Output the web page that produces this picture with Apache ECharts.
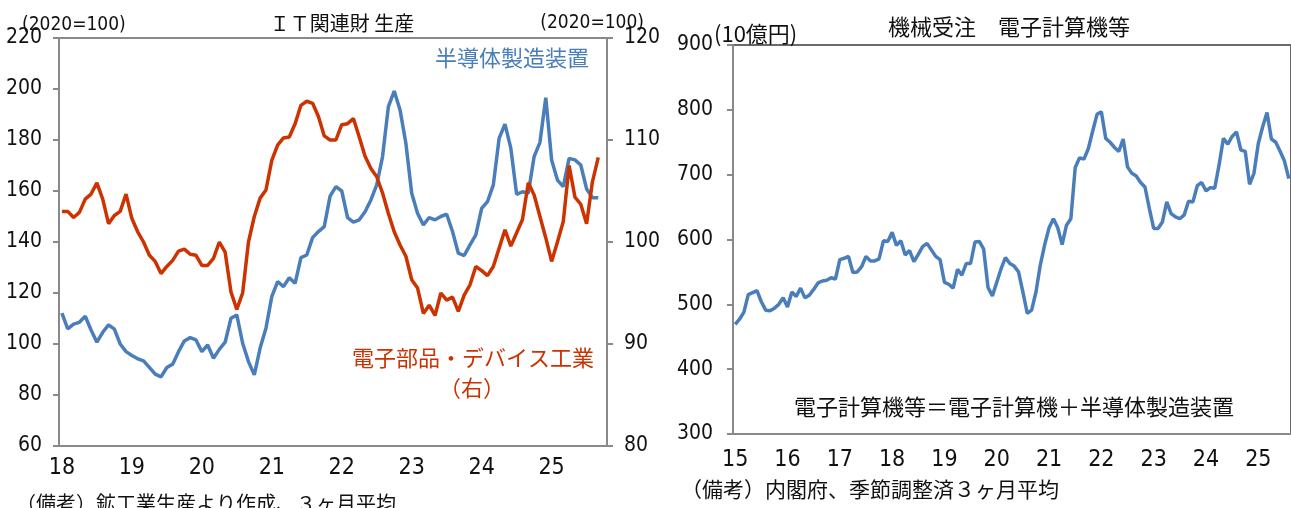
<!DOCTYPE html>
<html><head><meta charset="utf-8">
<script src="https://cdn.jsdelivr.net/npm/echarts@6/dist/echarts.min.js"></script>
<style>html,body{margin:0;padding:0;background:#fff}#c{width:1291px;height:508px}</style>
</head><body><div id="c"></div>
<script>
// ---- data ----
const leftStart = [2018, 1], leftMonthCount = 94;   // x-axis categories (monthly)
const rightStart = [2015, 1], rightMonthCount = 128;

// 半導体製造装置 (left axis, 2020=100), 2018-01 .. 2025-09
const semiEquip = [112.1,105.9,107.8,108.5,110.9,105.5,100.7,104.6,107.5,105.8,
 100.0,97.0,95.5,94.2,93.4,90.8,88.2,87.1,90.8,92.1,
 97.0,101.2,102.5,101.6,97.0,99.6,94.4,97.9,100.7,110.1,
 111.4,100.3,93.1,87.9,98.4,106.2,118.6,124.5,122.5,126.0,
 123.8,133.9,134.9,141.7,144.1,146.0,158.0,161.7,160.0,149.6,
 147.8,148.7,151.9,156.5,162.4,173.5,193.1,199.2,191.8,178.7,
 159.1,151.3,146.7,149.6,148.7,150.0,150.9,144.1,135.6,134.7,
 138.9,142.8,153.2,155.8,162.4,180.7,186.2,176.8,158.7,159.7,
 159.1,173.5,179.1,196.6,172.2,164.3,161.7,172.8,172.2,170.2,
 160.8,157.4,157.4];

// 電子部品・デバイス工業 (right axis, 2020=100), 2018-01 .. 2025-09
const elecParts = [103.0,103.0,102.4,102.9,104.2,104.7,105.8,104.2,101.8,102.6,
 103.0,104.7,102.3,101.0,100.0,98.7,98.1,96.9,97.6,98.2,
 99.1,99.3,98.8,98.7,97.7,97.7,98.4,100.0,99.0,95.1,
 93.4,95.0,100.0,102.5,104.3,105.1,108.0,109.5,110.2,110.3,
 111.6,113.4,113.8,113.6,112.3,110.4,110.0,110.0,111.5,111.6,
 112.1,110.3,108.4,107.2,106.4,104.8,102.8,101.0,99.7,98.6,
 96.3,95.5,93.0,93.8,92.8,95.0,94.3,94.6,93.2,94.8,
 95.8,97.6,97.2,96.7,97.6,99.4,101.2,99.6,100.9,102.2,
 105.8,104.6,102.5,100.4,98.1,100.0,102.0,107.5,104.4,103.7,
 101.8,105.9,108.3];

// 機械受注 電子計算機等 (10億円), 2015-01 .. 2025-08
const computerOrders = [469,477,488,515,518,521,504,491,490,494,
 500,510,496,519,512,525,510,514,523,533,
 536,537,541,539,569,571,574,549,550,558,
 574,567,567,570,598,597,611,591,598,576,
 583,566,577,589,594,584,574,569,534,531,
 525,554,545,563,563,596,597,585,526,513,
 534,555,572,563,559,550,519,486,491,519,
 561,592,618,632,618,592,622,632,711,726,
 724,740,767,793,797,756,750,742,736,755,
 712,702,698,688,681,648,617,617,627,658,
 640,635,632,638,659,658,683,688,675,680,
 679,715,756,747,759,766,738,736,685,702,
 748,774,796,755,750,736,721,694];

const leftYTicks = [60, 220, 20];   // min, max, interval
const rightYTicks = [80, 120, 10];
const ordersYTicks = [300, 900, 100];

function monthList(start, count) {
  const out = [];
  let y = start[0], m = start[1];
  for (let i = 0; i < count; i++) {
    out.push(y + '-' + (m < 10 ? '0' + m : '' + m));
    m++; if (m > 12) { m = 1; y++; }
  }
  return out;
}
const leftCats = monthList(leftStart, leftMonthCount);
const rightCats = monthList(rightStart, rightMonthCount);

// ---- styles ----
const NUM = "'Liberation Sans Narrow','Arial Narrow','DejaVu Sans Condensed',sans-serif";
const CJK = "'Noto Sans CJK JP',sans-serif";
const BLUE = '#4a7ebb', RED = '#cc3300', AX = '#898989';

const axLine = { show: true, lineStyle: { color: AX, width: 2 } };
const yTick = { show: true, inside: false, length: 6, lineStyle: { color: AX, width: 2 } };
const yLab = (m) => ({ fontFamily: NUM, fontSize: 21, color: '#111', margin: m });
const xLab = (m) => ({
  fontFamily: NUM, fontSize: 23, color: '#111', margin: m,
  interval: (i, v) => v.endsWith('-01'),
  formatter: (v) => v.slice(2, 4)
});

function txt(text, x, y, size, color, align, family) {
  return { type: 'text', x: x, y: y, z: 100, silent: true,
    style: { text: text, font: size + 'px ' + (family || CJK), fill: color || '#111',
      textAlign: align || 'center', align: align || 'center',
      textVerticalAlign: 'middle', verticalAlign: 'middle', lineHeight: 30 } };
}

const chart = echarts.init(document.getElementById('c'), null, { renderer: 'canvas' });
chart.setOption({
  animation: false,
  backgroundColor: '#fff',
  grid: [
    { left: 59, top: 38, width: 548, height: 408, show: true, borderColor: AX, borderWidth: 2, containLabel: false },
    { left: 733, top: 45, width: 560, height: 389, show: true, borderColor: '#6a6a6a', borderWidth: 2, containLabel: false }
  ],
  xAxis: [
    { type: 'category', gridIndex: 0, data: leftCats, boundaryGap: true,
      axisLine: axLine, axisTick: { show: false }, axisLabel: xLab(11), splitLine: { show: false } },
    { type: 'category', gridIndex: 1, data: rightCats, boundaryGap: true,
      axisLine: axLine, axisTick: { show: false }, axisLabel: xLab(15), splitLine: { show: false } }
  ],
  yAxis: [
    { type: 'value', gridIndex: 0, position: 'left', min: leftYTicks[0], max: leftYTicks[1], interval: leftYTicks[2],
      axisLine: axLine, axisTick: yTick, axisLabel: yLab(17), splitLine: { show: false } },
    { type: 'value', gridIndex: 0, position: 'right', min: rightYTicks[0], max: rightYTicks[1], interval: rightYTicks[2],
      axisLine: axLine, axisTick: yTick, axisLabel: yLab(17), splitLine: { show: false } },
    { type: 'value', gridIndex: 1, position: 'left', min: ordersYTicks[0], max: ordersYTicks[1], interval: ordersYTicks[2],
      axisLine: axLine, axisTick: yTick, axisLabel: yLab(20), splitLine: { show: false } }
  ],
  series: [
    { name: '半導体製造装置', type: 'line', xAxisIndex: 0, yAxisIndex: 0, data: semiEquip,
      showSymbol: false, lineStyle: { color: BLUE, width: 3.5 }, itemStyle: { color: BLUE }, z: 3 },
    { name: '電子部品・デバイス工業（右）', type: 'line', xAxisIndex: 0, yAxisIndex: 1, data: elecParts,
      showSymbol: false, lineStyle: { color: RED, width: 3.5 }, itemStyle: { color: RED }, z: 4 },
    { name: '電子計算機等', type: 'line', xAxisIndex: 1, yAxisIndex: 2, data: computerOrders,
      showSymbol: false, lineStyle: { color: BLUE, width: 3.5 }, itemStyle: { color: BLUE }, z: 3 }
  ],
  graphic: [
    txt('(2020=100)', 22, 25, 19, '#111', 'left', NUM),
    txt('ＩＴ関連財 生産', 342, 23, 20),
    txt('(2020=100)', 644, 23, 19, '#111', 'right', NUM),
    txt('半導体製造装置', 589, 58, 22, BLUE, 'right'),
    txt('電子部品・デバイス工業', 473, 358, 22, RED),
    txt('（右）', 472, 388, 22, RED),
    txt('（備考）鉱工業生産より作成、３ヶ月平均', 16, 503, 20, '#111', 'left'),
    txt('(10億円)', 714, 34, 22, '#111', 'left', "'Liberation Sans Narrow','Noto Sans CJK JP',sans-serif"),
    txt('機械受注　電子計算機等', 1009, 27, 22),
    txt('電子計算機等＝電子計算機＋半導体製造装置', 1014, 407, 22),
    txt('（備考）内閣府、季節調整済３ヶ月平均', 681, 489, 21, '#111', 'left')
  ]
});
</script></body></html>
